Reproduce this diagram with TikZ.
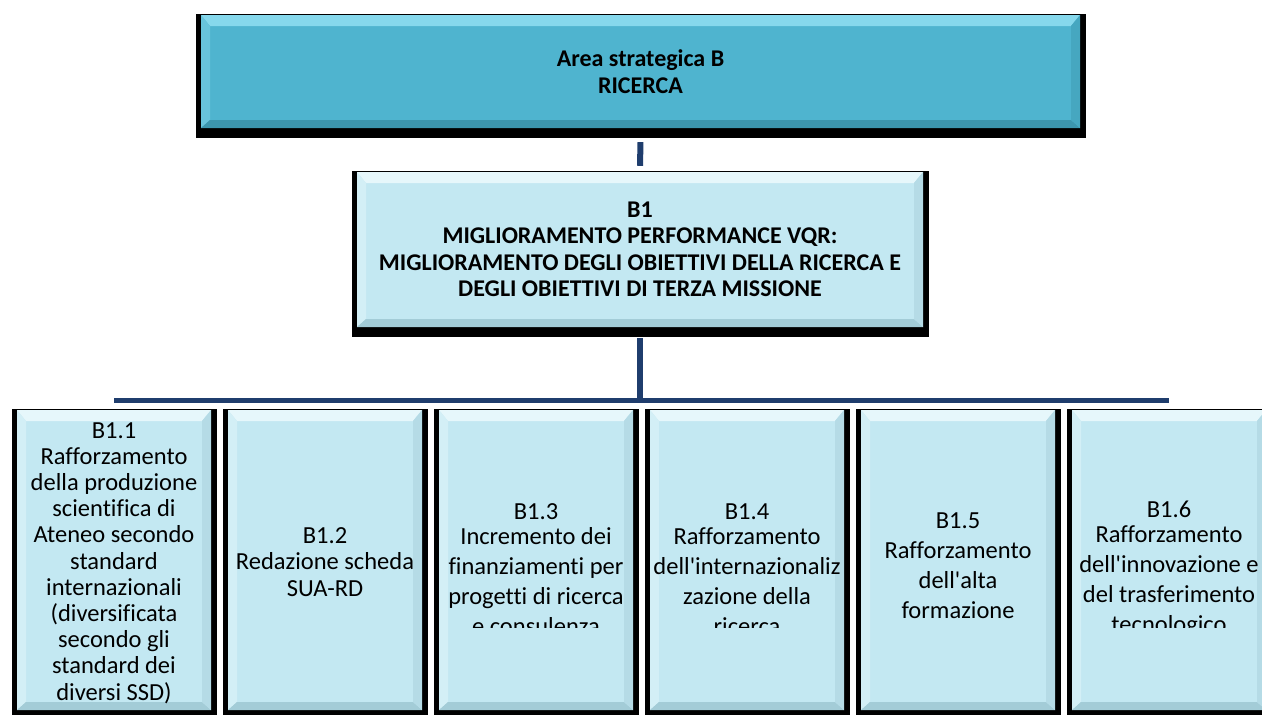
\documentclass[tikz,border=0pt]{standalone}
\usepackage{fontspec}
\setmainfont{Carlito}[Ligatures=NoCommon]
\usetikzlibrary{shadows}

\definecolor{areamain}{HTML}{4FB4CF}
\definecolor{arealight}{HTML}{86D8EC}
\definecolor{areadark}{HTML}{3C96AE}
\definecolor{goalmain}{HTML}{C3E8F2}
\definecolor{goallight}{HTML}{E6F7FB}
\definecolor{goaldark}{HTML}{A3CCD7}
\definecolor{linkblue}{HTML}{1F3D6D}

\tikzset{
  bevel/.style={rectangle, inner sep=0pt, fill=#1main,
    general shadow={fill=black, draw=black, line width=11pt, rounded corners=3pt, shadow yshift=-4.5pt},
    path picture={
      \path (path picture bounding box.north west) coordinate (pnw)
            (path picture bounding box.north east) coordinate (pne)
            (path picture bounding box.south east) coordinate (pse)
            (path picture bounding box.south west) coordinate (psw);
      \fill[#1light] (pnw) -- (pne) -- ([shift={(-9pt,-11pt)}]pne) -- ([shift={(9pt,-11pt)}]pnw) -- cycle;
      \fill[#1light!45!#1main] (pnw) -- ([shift={(9pt,-11pt)}]pnw) -- ([shift={(9pt,8pt)}]psw) -- (psw) -- cycle;
      \fill[#1dark] (psw) -- (pse) -- ([shift={(-9pt,8pt)}]pse) -- ([shift={(9pt,8pt)}]psw) -- cycle;
      \fill[#1dark!45!#1main] (pne) -- (pse) -- ([shift={(-9pt,8pt)}]pse) -- ([shift={(-9pt,-11pt)}]pne) -- cycle;
    }},
  headbox/.style={bevel=#1, align=center, font=\bfseries\fontsize{24}{26.5}\selectfont},
  subbox/.style={bevel=goal, minimum width=194pt, minimum height=300pt},
  subtext/.style={align=center, inner sep=0pt, font=\fontsize{24.5}{#1}\selectfont},
  link/.style={draw=linkblue, line width=6pt},
}

\begin{document}
\begin{tikzpicture}[x=1pt, y=-1pt]
\useasboundingbox (0,0) rectangle (1262,715);

\node[headbox=area, minimum width=879pt, minimum height=113pt] (area) at (640.5,71.5)
  {Area strategica B\\RICERCA};
\node[headbox=goal, minimum width=566pt, minimum height=155pt] (b1) at (640,249.5)
  {B1\\MIGLIORAMENTO PERFORMANCE VQR:\\MIGLIORAMENTO DEGLI OBIETTIVI DELLA RICERCA E\\DEGLI OBIETTIVI DI TERZA MISSIONE};

\node[subbox] (b11) at (114,560) {};
\node[subbox] (b12) at (325,560) {};
\node[subbox] (b13) at (536,560) {};
\node[subbox] (b14) at (747,560) {};
\node[subbox] (b15) at (958,560) {};
\node[subbox] (b16) at (1169,560) {};

\node[subtext=26.2] (t11) at (114,563) {B1.1\\Rafforzamento\\della produzione\\scientifica di\\Ateneo secondo\\standard\\internazionali\\(diversificata\\secondo gli\\standard dei\\diversi SSD)};
\node[subtext=26.2] (t12) at (325,562) {B1.2\\Redazione scheda\\SUA-RD};
\node[subtext=30] (t15) at (958,566) {B1.5\\Rafforzamento\\dell\textquotesingle alta\\formazione};
\begin{scope}
  \clip (b13.north west) rectangle (b16.east |- 0,627);
  \node[subtext=30] (t13) at (536,569) {B1.3\\[-5pt]Incremento dei\\finanziamenti per\\progetti di ricerca\\e consulenza};
  \node[subtext=30] (t14) at (747,569) {B1.4\\[-5pt]Rafforzamento\\dell\textquotesingle internazionaliz\\zazione della\\ricerca};
  \node[subtext=30] (t16) at (1169,569) {B1.6\\[-5pt]Rafforzamento\\dell\textquotesingle innovazione e\\del trasferimento\\tecnologico};
\end{scope}

\coordinate (barl) at (b11 |- 0,400.5);
\coordinate (barr) at (b16 |- 0,400.5);
\draw[link] ([yshift=-14pt]area.south) -- ([yshift=6pt]b1.north);
\draw[link] ([yshift=-11pt]b1.south) -- (b1 |- barl);
\draw[link, line width=5.5pt] (barl) -- (barr);
\end{tikzpicture}
\end{document}
